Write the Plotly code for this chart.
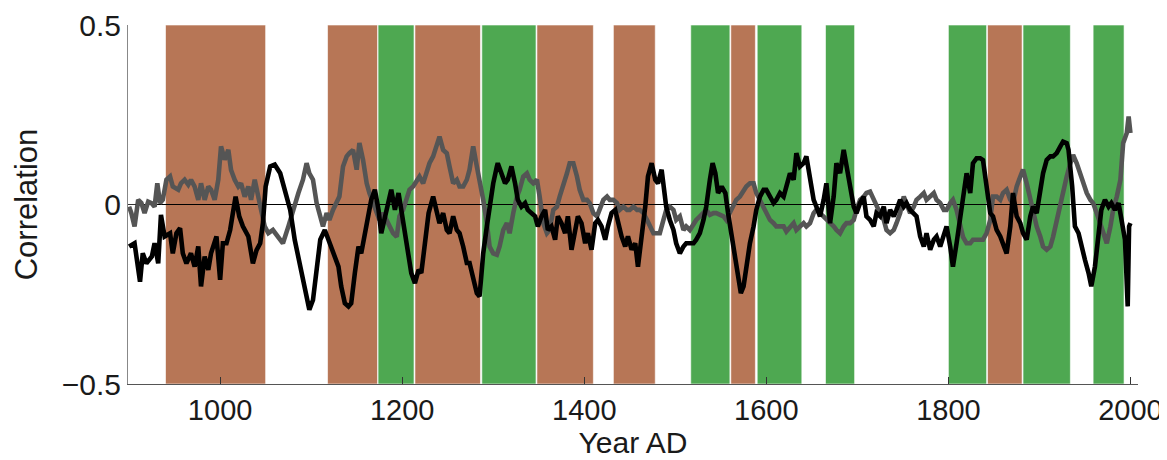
import plotly.graph_objects as go

# ---------------- data ----------------
black_years = [900, 906, 912, 915, 919, 925, 928, 932, 935, 939, 945, 948, 952, 956, 959, 963, 968, 972, 976, 979,
               983, 987, 990, 996, 1000, 1003, 1007, 1011, 1014, 1017, 1021, 1025, 1031, 1036, 1040, 1044, 1047, 1050,
               1055, 1060, 1066, 1071, 1077, 1082, 1088, 1091, 1095, 1098, 1102, 1106, 1110, 1115, 1119, 1122, 1126,
               1130, 1133, 1137, 1141, 1144, 1148, 1152, 1155, 1159, 1163, 1166, 1170, 1174, 1177, 1181, 1185, 1188,
               1192, 1196, 1199, 1203, 1207, 1210, 1214, 1218, 1221, 1225, 1229, 1234, 1238, 1241, 1245, 1249, 1252,
               1256, 1260, 1263, 1267, 1271, 1274, 1278, 1282, 1285, 1289, 1293, 1296, 1300, 1304, 1305, 1309, 1313,
               1316, 1320, 1324, 1327, 1331, 1335, 1338, 1342, 1346, 1349, 1353, 1357, 1360, 1364, 1368, 1371, 1375,
               1379, 1382, 1386, 1390, 1393, 1397, 1401, 1404, 1408, 1412, 1415, 1419, 1423, 1426, 1430, 1434, 1437,
               1441, 1445, 1448, 1452, 1456, 1459, 1463, 1467, 1470, 1474, 1478, 1481, 1485, 1487, 1489, 1490, 1494,
               1498, 1501, 1505, 1509, 1512, 1516, 1520, 1523, 1527, 1531, 1534, 1538, 1541, 1544, 1547, 1551, 1555,
               1558, 1562, 1566, 1569, 1572, 1575, 1578, 1582, 1586, 1589, 1593, 1597, 1600, 1604, 1608, 1611, 1615,
               1619, 1622, 1626, 1630, 1633, 1637, 1641, 1644, 1648, 1652, 1655, 1659, 1663, 1666, 1670, 1674, 1677,
               1681, 1685, 1688, 1692, 1696, 1699, 1703, 1707, 1710, 1714, 1718, 1721, 1725, 1729, 1732, 1736, 1740,
               1743, 1747, 1751, 1754, 1758, 1762, 1765, 1769, 1773, 1776, 1780, 1784, 1787, 1791, 1795, 1798, 1802,
               1805, 1809, 1813, 1816, 1820, 1824, 1827, 1831, 1835, 1838, 1842, 1846, 1849, 1853, 1857, 1860, 1864,
               1868, 1871, 1875, 1879, 1882, 1886, 1890, 1893, 1897, 1901, 1904, 1908, 1912, 1915, 1919, 1923, 1926,
               1930, 1932, 1936, 1939, 1943, 1946, 1950, 1954, 1957, 1961, 1965, 1968, 1972, 1976, 1979, 1983, 1987,
               1990, 1994, 1997, 1998.5, 2000]
black_vals = [-0.117, -0.108, -0.215, -0.136, -0.164, -0.145, -0.108, -0.164, -0.029, -0.089, -0.080, -0.136, -0.080,
              -0.066, -0.136, -0.164, -0.136, -0.173, -0.117, -0.228, -0.145, -0.182, -0.136, -0.089, -0.210, -0.108,
              -0.108, -0.071, -0.024, 0.022, -0.033, -0.061, -0.089, -0.164, -0.127, -0.108, -0.052, 0.050, 0.106,
              0.111, 0.087, 0.041, -0.015, -0.099, -0.173, -0.201, -0.247, -0.293, -0.266, -0.173, -0.098, -0.071,
              -0.098, -0.126, -0.154, -0.173, -0.228, -0.275, -0.284, -0.275, -0.191, -0.117, -0.136, -0.080, -0.015,
              0.013, 0.041, -0.015, -0.080, -0.033, 0.013, 0.041, -0.015, 0.032, -0.015, -0.080, -0.126, -0.191,
              -0.219, -0.182, -0.191, -0.098, -0.024, 0.022, -0.015, -0.052, -0.024, -0.071, -0.080, -0.033, -0.071,
              -0.080, -0.117, -0.163, -0.163, -0.201, -0.247, -0.256, -0.136, -0.061, -0.006, 0.059, 0.106, 0.115,
              0.087, 0.059, 0.069, 0.106, 0.059, 0.013, -0.006, 0.004, -0.015, -0.024, -0.033, -0.061, -0.033, -0.015,
              -0.071, -0.061, -0.098, -0.033, -0.052, -0.080, -0.033, -0.126, -0.080, -0.033, -0.052, -0.108, -0.080,
              -0.126, -0.052, -0.043, -0.061, -0.098, -0.061, -0.024, -0.015, -0.052, -0.089, -0.117, -0.089, -0.126,
              -0.108, -0.173, -0.098, -0.006, 0.078, 0.115, 0.069, 0.059, 0.097, 0.059, 0.022, -0.006, -0.043, -0.071,
              -0.108, -0.136, -0.117, -0.108, -0.108, -0.108, -0.098, -0.080, -0.043, -0.006, 0.069, 0.115, 0.087,
              0.032, 0.050, 0.032, -0.024, -0.089, -0.163, -0.210, -0.247, -0.228, -0.173, -0.108, -0.061, -0.015,
              0.022, 0.041, 0.041, 0.022, 0.004, 0.013, 0.032, 0.022, 0.050, 0.087, 0.069, 0.143, 0.106, 0.115, 0.134,
              0.078, 0.013, -0.006, -0.033, 0.013, 0.059, -0.052, 0.022, 0.115, 0.087, 0.152, 0.106, 0.041, -0.006,
              -0.024, 0.004, 0.022, -0.033, -0.043, -0.061, -0.024, -0.033, -0.006, -0.052, -0.015, -0.033, -0.015,
              0.013, -0.006, 0.004, -0.015, -0.024, -0.033, -0.089, -0.117, -0.080, -0.126, -0.098, -0.089, -0.117,
              -0.080, -0.061, -0.117, -0.173, -0.108, -0.033, 0.032, 0.087, 0.032, 0.115, 0.129, 0.129, 0.124, 0.050,
              -0.024, -0.033, -0.071, -0.089, -0.108, -0.136, -0.061, 0.032, -0.033, -0.052, -0.080, -0.098, -0.033,
              -0.006, -0.024, 0.041, 0.087, 0.124, 0.134, 0.134, 0.143, 0.162, 0.175, 0.171, 0.152, 0.050, -0.061,
              -0.080, -0.117, -0.154, -0.191, -0.228, -0.173, -0.089, -0.015, 0.013, -0.006, 0.004, -0.015, 0.004,
              -0.043, -0.098, -0.284, -0.061, -0.052]

grey_years = [900, 902.5, 906, 910, 913.5, 917, 921, 924.5, 928, 931, 934, 937, 941, 945, 948, 954, 957, 961, 965, 968,
              972, 976, 979, 983, 987, 990, 994, 998, 1001, 1005, 1009, 1012, 1016, 1020, 1023, 1027, 1031, 1034, 1038,
              1042, 1045, 1049, 1053, 1058, 1064, 1069, 1075, 1080, 1086, 1091, 1095, 1098, 1102, 1106, 1110, 1113,
              1117, 1120, 1124, 1128, 1131, 1135, 1139, 1142, 1146, 1150, 1153, 1157, 1161, 1164, 1168, 1172, 1175,
              1179, 1183, 1186, 1190, 1194, 1197, 1201, 1205, 1208, 1212, 1216, 1219, 1223, 1227, 1230, 1234, 1238,
              1241, 1245, 1249, 1252, 1256, 1260, 1263, 1267, 1271, 1274, 1278, 1282, 1285, 1289, 1293, 1296, 1300,
              1304, 1307, 1311, 1315, 1318, 1322, 1326, 1329, 1333, 1337, 1340, 1344, 1348, 1351, 1355, 1359, 1362,
              1366, 1370, 1373, 1377, 1381, 1384, 1388, 1392, 1395, 1399, 1403, 1406, 1410, 1414, 1417, 1421, 1425,
              1428, 1432, 1436, 1439, 1443, 1447, 1450, 1454, 1458, 1461, 1465, 1469, 1472, 1476, 1479, 1483, 1487,
              1490, 1494, 1498, 1501, 1505, 1509, 1512, 1516, 1520, 1523, 1527, 1531, 1534, 1538, 1542, 1545, 1549,
              1553, 1556, 1560, 1564, 1567, 1571, 1575, 1578, 1582, 1586, 1589, 1593, 1597, 1600, 1604, 1608, 1611,
              1615, 1619, 1622, 1626, 1630, 1633, 1637, 1641, 1644, 1648, 1652, 1655, 1659, 1663, 1666, 1670, 1674,
              1677, 1681, 1685, 1688, 1692, 1696, 1699, 1703, 1707, 1710, 1714, 1718, 1721, 1725, 1729, 1732, 1736,
              1740, 1743, 1747, 1751, 1754, 1758, 1762, 1765, 1769, 1773, 1776, 1780, 1784, 1787, 1791, 1795, 1798,
              1802, 1805, 1809, 1813, 1816, 1820, 1824, 1827, 1831, 1835, 1838, 1842, 1846, 1849, 1853, 1857, 1860,
              1864, 1868, 1871, 1875, 1879, 1882, 1886, 1890, 1893, 1897, 1901, 1904, 1908, 1912, 1915, 1919, 1923,
              1926, 1930, 1934, 1937, 1941, 1945, 1948, 1952, 1956, 1959, 1963, 1967, 1970, 1974, 1978, 1981, 1985,
              1989, 1992, 1994, 1996, 1998, 2000]
grey_vals = [-0.006, -0.024, -0.061, 0.013, 0.004, -0.024, 0.008, 0.004, -0.006, 0.059, 0.004, 0.013, 0.069, 0.078,
             0.050, 0.041, 0.059, 0.069, 0.055, 0.069, 0.050, 0.013, 0.059, 0.013, 0.050, 0.041, 0.013, 0.069, 0.162,
             0.125, 0.152, 0.096, 0.069, 0.050, 0.059, 0.022, 0.050, 0.013, 0.069, 0.013, -0.015, -0.061, -0.080,
             -0.071, -0.089, -0.108, -0.061, -0.015, 0.032, 0.069, 0.115, 0.087, 0.069, 0.004, -0.033, -0.061, -0.024,
             -0.043, -0.015, 0.004, 0.022, 0.106, 0.134, 0.143, 0.152, 0.097, 0.171, 0.124, 0.059, 0.032, 0.004,
             -0.024, -0.043, -0.024, -0.043, -0.061, -0.080, -0.090, -0.033, -0.015, 0.013, 0.041, 0.050, 0.069,
             0.078, 0.059, 0.097, 0.115, 0.134, 0.162, 0.189, 0.152, 0.143, 0.106, 0.059, 0.069, 0.050, 0.050, 0.069,
             0.097, 0.162, 0.106, 0.069, 0.013, -0.052, -0.117, -0.136, -0.140, -0.117, -0.071, -0.052, -0.080,
             -0.024, 0.022, 0.041, 0.078, 0.087, 0.069, 0.059, 0.069, 0.022, -0.052, -0.080, -0.071, -0.015, -0.006,
             0.022, 0.050, 0.087, 0.115, 0.115, 0.078, 0.041, 0.013, 0.013, 0.004, -0.024, -0.033, -0.015, 0.013,
             0.022, 0.013, 0.013, 0.004, -0.015, -0.006, -0.015, -0.015, -0.006, -0.015, -0.015, -0.024, -0.043,
             -0.061, -0.080, -0.080, -0.080, -0.043, -0.015, -0.006, -0.015, -0.043, -0.033, -0.071, -0.061, -0.071,
             -0.052, -0.043, -0.033, -0.024, -0.015, -0.029, -0.024, -0.024, -0.029, -0.033, -0.043, -0.024, -0.006,
             0.013, 0.022, 0.041, 0.050, 0.059, 0.059, 0.032, 0.013, -0.006, -0.024, -0.043, -0.052, -0.061, -0.061,
             -0.061, -0.075, -0.061, -0.052, -0.071, -0.061, -0.052, -0.061, -0.052, -0.024, -0.015, -0.024, -0.033,
             -0.043, -0.052, -0.061, -0.071, -0.080, -0.061, -0.052, -0.052, -0.043, -0.015, 0.013, 0.022, 0.032,
             0.036, 0.013, -0.006, -0.024, -0.043, -0.071, -0.080, -0.071, -0.052, -0.024, 0.022, 0.004, -0.024,
             -0.006, 0.013, 0.022, 0.032, 0.013, 0.022, 0.032, 0.013, 0.004, -0.015, -0.015, 0.004, 0.013, -0.015,
             -0.052, -0.090, -0.108, -0.108, -0.098, -0.098, -0.098, -0.098, -0.080, -0.043, 0.022, 0.022, 0.013,
             0.032, 0.041, 0.013, 0.004, 0.050, 0.078, 0.097, 0.059, 0.013, -0.024, -0.061, -0.090, -0.117, -0.126,
             -0.117, -0.090, -0.043, -0.006, 0.041, 0.078, 0.115, 0.138, 0.115, 0.087, 0.059, 0.032, 0.013, 0.004,
             -0.024, -0.052, -0.080, -0.108, -0.061, -0.015, 0.022, 0.069, 0.171, 0.189, 0.199, 0.245, 0.199]

# shaded periods (start year, end year)
brown_periods = [(940, 1050), (1118, 1173), (1214, 1286), (1348, 1410), (1432, 1478), (1561, 1588), (1843, 1881)]
green_periods = [(1173.5, 1213), (1287.5, 1347), (1517, 1560), (1590, 1639), (1665, 1697), (1800, 1842),
                 (1882, 1934), (1959, 1993)]

x_ticks = [1000, 1200, 1400, 1600, 1800, 2000]
y_ticks = [-0.5, 0, 0.5]
y_tick_text = ["\u22120.5", "0", "0.5"]
x_range = [898.8, 2008.3]
y_range = [-0.5, 0.5]
zero_line_span = (898.8, 1993)

BROWN = "#B77656"
GREEN = "#4EA851"
FONT = "Liberation Sans, Arial, Helvetica, sans-serif"
TXT = "#1a1a1a"

fig = go.Figure()

shapes = []
for (a, b) in brown_periods:
    shapes.append(dict(type="rect", xref="x", yref="y", x0=a, x1=b, y0=y_range[0], y1=y_range[1],
                       fillcolor=BROWN, line=dict(color="rgba(255,255,255,0.6)", width=1), layer="below"))
for (a, b) in green_periods:
    shapes.append(dict(type="rect", xref="x", yref="y", x0=a, x1=b, y0=y_range[0], y1=y_range[1],
                       fillcolor=GREEN, line=dict(color="rgba(255,255,255,0.6)", width=1), layer="below"))
shapes.append(dict(type="line", xref="x", yref="y", x0=zero_line_span[0], x1=zero_line_span[1], y0=0, y1=0,
                   line=dict(color="black", width=1), layer="below"))

fig.add_trace(go.Scatter(x=grey_years, y=grey_vals, mode="lines",
                         line=dict(color="#555555", width=4.6), showlegend=False, hoverinfo="skip"))
fig.add_trace(go.Scatter(x=black_years, y=black_vals, mode="lines",
                         line=dict(color="#000000", width=4.6), showlegend=False, hoverinfo="skip"))

# page body adds an 8px offset, so the figure is 8px smaller and margins compensate
fig.update_layout(
    width=1159, height=452,
    margin=dict(l=120, r=29, t=17, b=76),
    paper_bgcolor="white", plot_bgcolor="white",
    shapes=shapes,
    font=dict(family=FONT, color=TXT, size=28),
    xaxis=dict(range=x_range, tickvals=x_ticks, ticks="inside", ticklen=7, tickcolor="#333",
               showline=True, linecolor="#555", linewidth=1, showgrid=False, zeroline=False, automargin=False,
               tickfont=dict(size=29, family=FONT, color=TXT),
               title=dict(text="Year AD", font=dict(size=30, family=FONT, color=TXT), standoff=4)),
    yaxis=dict(range=y_range, tickvals=y_ticks, ticktext=y_tick_text, ticks="inside", ticklen=8,
               tickcolor="#333", showline=True, linecolor="#888", linewidth=1, showgrid=False, zeroline=False,
               automargin=False,
               tickfont=dict(size=30, family=FONT, color=TXT),
               title=dict(text="Correlation", font=dict(size=31, family=FONT, color=TXT), standoff=14)),
)

fig.write_html("out.html")
